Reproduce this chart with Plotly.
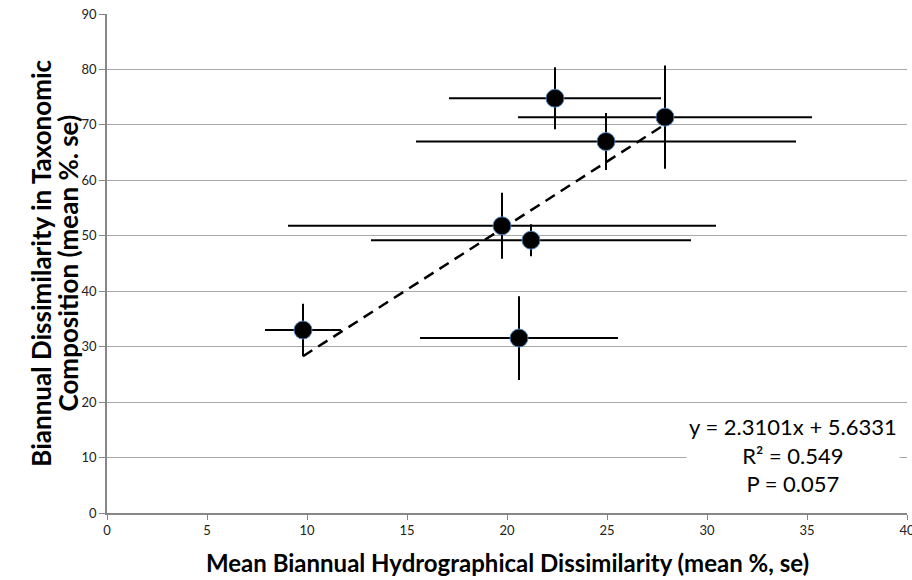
import plotly.graph_objects as go

# Site means (%) with standard errors
hydro_mean = [9.8, 19.75, 20.6, 21.2, 22.4, 24.95, 27.9]
hydro_se = [1.9, 10.7, 4.95, 8.0, 5.3, 9.5, 7.35]
taxo_mean = [33.0, 51.8, 31.55, 49.2, 74.8, 67.0, 71.4]
taxo_se = [4.75, 5.95, 7.55, 2.9, 5.6, 5.15, 9.3]

# Linear fit reported on the chart
slope = 2.3101
intercept = 5.6331
r_squared = 0.549
p_value = 0.057

x_ticks = [0, 5, 10, 15, 20, 25, 30, 35, 40]
y_ticks = [0, 10, 20, 30, 40, 50, 60, 70, 80, 90]

x_title = "Mean Biannual Hydrographical Dissimilarity (mean %, se)"
y_title_lines = ["Biannual Dissimilarity in Taxonomic", "Composition (mean %. se)"]

FONT = "Lato"

fit_x = [min(hydro_mean), max(hydro_mean)]
fit_y = [slope * v + intercept for v in fit_x]

fig = go.Figure()

fig.add_trace(go.Scatter(
    x=fit_x, y=fit_y, mode="lines",
    line=dict(color="black", width=2.5, dash="11px,7px"),
    hoverinfo="skip", showlegend=False,
))

fig.add_trace(go.Scatter(
    x=hydro_mean, y=taxo_mean, mode="markers",
    marker=dict(size=18, color="black", line=dict(color="#4f81bd", width=1)),
    error_x=dict(type="data", array=hydro_se, color="black", thickness=2, width=0),
    error_y=dict(type="data", array=taxo_se, color="black", thickness=2, width=0),
    showlegend=False,
))

fig.add_annotation(
    x=34.3, y=10.46, xref="x", yref="y",
    text=f"y = {slope}x + {intercept}<br>R² = {r_squared}<br>P = {p_value}",
    showarrow=False, align="center", xanchor="center", yanchor="middle",
    font=dict(family=FONT, size=22, color="black"),
    bgcolor="white", borderpad=2,
)

fig.add_annotation(
    x=0.5, y=-0.1, xref="paper", yref="paper",
    text=f"<b>{x_title}</b>",
    showarrow=False, xanchor="center", yanchor="middle",
    font=dict(family=FONT, size=24, color="black"),
)

# two-line rotated y title, each line placed separately for tight spacing
for line, xpos in zip(y_title_lines, [-0.0835, -0.05]):
    fig.add_annotation(
        x=xpos, y=0.5, xref="paper", yref="paper",
        text=f"<b>{line}</b>",
        showarrow=False, xanchor="center", yanchor="middle", textangle=-90,
        font=dict(family=FONT, size=26, color="black"),
    )

fig.update_xaxes(
    range=[0, 40], tickvals=x_ticks, showgrid=False, zeroline=False,
    showline=True, linecolor="#868686", linewidth=1.5,
    ticks="outside", ticklen=5, tickcolor="#868686", tickwidth=1,
    tickfont=dict(family=FONT, size=13, color="#222"),
    ticklabeloverflow="allow", automargin=False,
)
fig.update_yaxes(
    range=[0, 90], tickvals=y_ticks, showgrid=True, gridcolor="#a8a8a8", gridwidth=1,
    zeroline=False, showline=True, linecolor="#868686", linewidth=1.5,
    ticks="outside", ticklen=6, tickcolor="#868686", tickwidth=1,
    tickfont=dict(family=FONT, size=13, color="#222"),
    automargin=False,
)

fig.update_layout(
    width=912, height=580,
    margin=dict(l=107, r=5, t=14, b=67, autoexpand=False),
    plot_bgcolor="white", paper_bgcolor="white",
    font=dict(family=FONT),
)

fig.write_html("out.html")
